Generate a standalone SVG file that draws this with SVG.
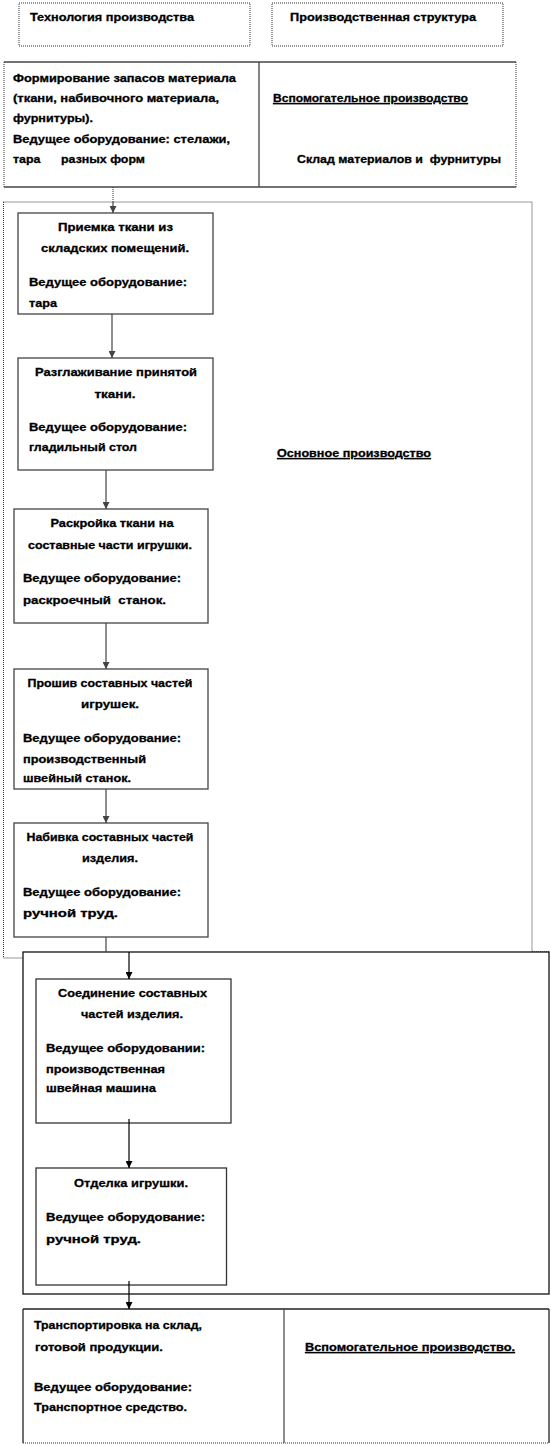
<svg xmlns="http://www.w3.org/2000/svg" width="551" height="1445" viewBox="0 0 551 1445">
<defs>
<style>
text{font-family:"Liberation Sans",Arial,sans-serif;font-size:11.5px;font-weight:bold;fill:#000;stroke:#000;stroke-width:0.3}
.c{text-anchor:middle}
.u{text-decoration:underline}
.box{fill:#fff;stroke:#444;stroke-width:1.3}
.sol{stroke:#444;stroke-width:1.3;fill:none}
.dot{fill:none;stroke:#333;stroke-width:1;stroke-dasharray:1 1}
.conn{stroke:#444;stroke-width:1.2;fill:none;marker-end:url(#ag)}
.connb{stroke:#000;stroke-width:1.2;fill:none;marker-end:url(#ab)}
</style>
<marker id="ag" viewBox="0 0 8 8" refX="8" refY="4" markerWidth="7" markerHeight="7" markerUnits="userSpaceOnUse" orient="auto"><path d="M0,0 L8,4 L0,8 z" fill="#444"/></marker>
<marker id="ab" viewBox="0 0 8 8" refX="8" refY="4" markerWidth="7" markerHeight="7" markerUnits="userSpaceOnUse" orient="auto"><path d="M0,0 L8,4 L0,8 z" fill="#000"/></marker>
</defs>
<rect width="551" height="1445" fill="#fff"/>

<g id="hdr-tech">
<rect class="dot" x="19" y="3" width="231" height="43"/>
<text x="30" y="21" textLength="164" lengthAdjust="spacingAndGlyphs">Технология производства</text>
</g>
<g id="hdr-struct">
<rect class="dot" x="272" y="3" width="231" height="43"/>
<text x="290" y="21" textLength="186" lengthAdjust="spacingAndGlyphs">Производственная структура</text>
</g>

<g id="stock">
<rect x="4" y="62" width="512" height="125" fill="#fff"/>
<line class="sol" x1="4" y1="62" x2="516" y2="62"/>
<line class="sol" x1="4" y1="187" x2="516" y2="187"/>
<line class="dot" x1="4" y1="62" x2="4" y2="187"/>
<line class="dot" x1="516" y1="62" x2="516" y2="187"/>
<line class="sol" x1="259" y1="62" x2="259" y2="187"/>
<text x="13" y="82" textLength="223" lengthAdjust="spacingAndGlyphs">Формирование запасов материала</text>
<text x="13" y="102" textLength="206" lengthAdjust="spacingAndGlyphs">(ткани, набивочного материала,</text>
<text x="13" y="122" textLength="80" lengthAdjust="spacingAndGlyphs">фурнитуры).</text>
<text x="13" y="143" textLength="217" lengthAdjust="spacingAndGlyphs">Ведущее оборудование: стелажи,</text>
<text x="13" y="163" xml:space="preserve" textLength="132" lengthAdjust="spacingAndGlyphs">тара      разных форм</text>
<text class="u" x="273" y="102" textLength="195" lengthAdjust="spacingAndGlyphs">Вспомогательное производство</text>
<text x="297" y="163" xml:space="preserve" textLength="204" lengthAdjust="spacingAndGlyphs">Склад материалов и  фурнитуры</text>
</g>

<g id="main-area">
<rect class="dot" x="3.5" y="202" width="528.5" height="756"/>
<text class="u" x="277" y="457" textLength="154" lengthAdjust="spacingAndGlyphs">Основное производство</text>
</g>

<g id="assembly-area">
<rect x="23" y="952" width="526" height="342" fill="#fff" stroke="#111" stroke-width="1.3"/>
<line class="dot" x1="532" y1="951.5" x2="549" y2="951.5"/>
</g>

<g id="n-priemka">
<rect class="box" x="18" y="213" width="195" height="101"/>
<text class="c" x="115.5" y="231" textLength="115" lengthAdjust="spacingAndGlyphs">Приемка ткани из</text>
<text class="c" x="115" y="252" textLength="148" lengthAdjust="spacingAndGlyphs">складских помещений.</text>
<text x="29" y="286" textLength="158" lengthAdjust="spacingAndGlyphs">Ведущее оборудование:</text>
<text x="29" y="307" textLength="28" lengthAdjust="spacingAndGlyphs">тара</text>
</g>

<g id="n-razglazh">
<rect class="box" x="18" y="358" width="195" height="112"/>
<text class="c" x="116" y="376" textLength="162" lengthAdjust="spacingAndGlyphs">Разглаживание принятой</text>
<text class="c" x="115" y="398" textLength="41" lengthAdjust="spacingAndGlyphs">ткани.</text>
<text x="29" y="431" textLength="158" lengthAdjust="spacingAndGlyphs">Ведущее оборудование:</text>
<text x="29" y="451" textLength="108" lengthAdjust="spacingAndGlyphs">гладильный стол</text>
</g>

<g id="n-raskroy">
<rect class="box" x="14" y="509" width="194" height="114"/>
<text class="c" x="112" y="527" textLength="123" lengthAdjust="spacingAndGlyphs">Раскройка ткани на</text>
<text class="c" x="110" y="549" textLength="164" lengthAdjust="spacingAndGlyphs">составные части игрушки.</text>
<text x="23" y="582" textLength="158" lengthAdjust="spacingAndGlyphs">Ведущее оборудование:</text>
<text x="23" y="604" xml:space="preserve" textLength="143" lengthAdjust="spacingAndGlyphs">раскроечный  станок.</text>
</g>

<g id="n-proshiv">
<rect class="box" x="14" y="669" width="194" height="120"/>
<text class="c" x="110" y="687" textLength="165" lengthAdjust="spacingAndGlyphs">Прошив составных частей</text>
<text class="c" x="110" y="708" textLength="58" lengthAdjust="spacingAndGlyphs">игрушек.</text>
<text x="23" y="742" textLength="158" lengthAdjust="spacingAndGlyphs">Ведущее оборудование:</text>
<text x="23" y="763" textLength="123" lengthAdjust="spacingAndGlyphs">производственный</text>
<text x="23" y="782" textLength="108" lengthAdjust="spacingAndGlyphs">швейный станок.</text>
</g>

<g id="n-nabivka">
<rect class="box" x="14" y="823" width="194" height="114"/>
<text class="c" x="110" y="841" textLength="167" lengthAdjust="spacingAndGlyphs">Набивка составных частей</text>
<text class="c" x="110" y="862" textLength="56" lengthAdjust="spacingAndGlyphs">изделия.</text>
<text x="23" y="896" textLength="158" lengthAdjust="spacingAndGlyphs">Ведущее оборудование:</text>
<text x="23" y="917" textLength="95" lengthAdjust="spacingAndGlyphs">ручной труд.</text>
</g>

<g id="n-soedin">
<rect x="36" y="979" width="195" height="144" fill="#fff" stroke="#333" stroke-width="1.3"/>
<text class="c" x="132.5" y="997" textLength="149" lengthAdjust="spacingAndGlyphs">Соединение составных</text>
<text class="c" x="132" y="1018" textLength="102" lengthAdjust="spacingAndGlyphs">частей изделия.</text>
<text x="46" y="1052" textLength="159" lengthAdjust="spacingAndGlyphs">Ведущее оборудовании:</text>
<text x="46" y="1073" textLength="119" lengthAdjust="spacingAndGlyphs">производственная</text>
<text x="46" y="1092" textLength="110" lengthAdjust="spacingAndGlyphs">швейная машина</text>
</g>

<g id="n-otdelka">
<rect x="36" y="1168" width="190.5" height="117" fill="#fff" stroke="#333" stroke-width="1.3"/>
<text class="c" x="131" y="1187" textLength="114" lengthAdjust="spacingAndGlyphs">Отделка игрушки.</text>
<text x="46" y="1221" textLength="159" lengthAdjust="spacingAndGlyphs">Ведущее оборудование:</text>
<text x="46" y="1243" textLength="95" lengthAdjust="spacingAndGlyphs">ручной труд.</text>
</g>

<g id="n-transport">
<rect x="23" y="1309" width="526" height="134" fill="#fff"/>
<line x1="23" y1="1309" x2="549" y2="1309" stroke="#222" stroke-width="1.3"/>
<line x1="23" y1="1309" x2="23" y2="1443" stroke="#222" stroke-width="1.3"/>
<line x1="549" y1="1309" x2="549" y2="1443" stroke="#222" stroke-width="1.3"/>
<line class="dot" x1="23" y1="1443" x2="549" y2="1443"/>
<line x1="284" y1="1309" x2="284" y2="1443" stroke="#444" stroke-width="1.2"/>
<text x="34" y="1329" textLength="168" lengthAdjust="spacingAndGlyphs">Транспортировка на склад,</text>
<text x="35" y="1351" textLength="128" lengthAdjust="spacingAndGlyphs">готовой продукции.</text>
<text x="34" y="1391" textLength="158" lengthAdjust="spacingAndGlyphs">Ведущее оборудование:</text>
<text x="34" y="1411" textLength="153" lengthAdjust="spacingAndGlyphs">Транспортное средство.</text>
<text class="u" x="305" y="1351" textLength="210" lengthAdjust="spacingAndGlyphs">Вспомогательное производство.</text>
</g>

<g id="connectors">
<line class="dot" x1="113" y1="187" x2="113" y2="202"/>
<line class="conn" x1="113" y1="202" x2="113" y2="213"/>
<line class="conn" x1="112" y1="314" x2="112" y2="358"/>
<line class="conn" x1="106" y1="470" x2="106" y2="509"/>
<line class="conn" x1="106" y1="623" x2="106" y2="669"/>
<line class="conn" x1="106" y1="789" x2="106" y2="823"/>
<line x1="106" y1="937" x2="106" y2="952" stroke="#444" stroke-width="1.2"/>
<line class="connb" x1="129" y1="952" x2="129" y2="979"/>
<line class="connb" x1="129" y1="1119" x2="129" y2="1168"/>
<line class="connb" x1="129" y1="1281" x2="129" y2="1309"/>
</g>
</svg>
